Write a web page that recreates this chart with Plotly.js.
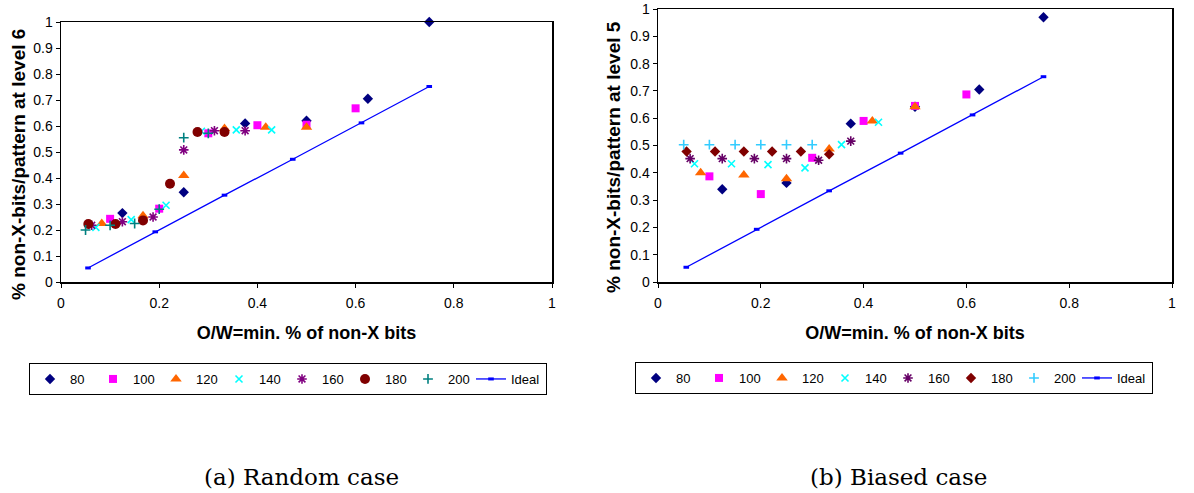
<!DOCTYPE html>
<html>
<head>
<meta charset="utf-8">
<script src="https://cdn.plot.ly/plotly-3.0.1.min.js"></script>
<style>html,body{margin:0;padding:0;background:#fff;}#chart{width:1194px;height:493px;}</style>
</head>
<body>
<div id="chart"></div>
<script>
// ---- data ----
const seriesNames = ["80", "100", "120", "140", "160", "180", "200"];
const idealName = "Ideal";
const xIdeal = [0.055, 0.192, 0.333, 0.472, 0.612, 0.75];
const yIdeal = [0.054, 0.193, 0.334, 0.472, 0.612, 0.752];

const x80  = [0.125, 0.25, 0.375, 0.5, 0.625, 0.75];
const x100 = [0.1, 0.2, 0.3, 0.4, 0.5, 0.6];
const x120 = [0.083, 0.167, 0.25, 0.333, 0.417, 0.5];
const x140 = [0.071, 0.143, 0.214, 0.286, 0.357, 0.429];
const x160 = [0.0625, 0.125, 0.1875, 0.25, 0.3125, 0.375];
const x180 = [0.0556, 0.111, 0.167, 0.222, 0.278, 0.333];
const x200 = [0.05, 0.1, 0.15, 0.2, 0.25, 0.3];

// (a) Random case
const yA80  = [0.265, 0.345, 0.61, 0.62, 0.705, 1.0];
const yA100 = [0.243, 0.282, 0.572, 0.603, 0.605, 0.668];
const yA120 = [0.225, 0.255, 0.41, 0.59, 0.595, 0.595];
const yA140 = [0.21, 0.24, 0.295, 0.58, 0.585, 0.585];
const yA160 = [0.218, 0.232, 0.25, 0.508, 0.582, 0.582];
const yA180 = [0.223, 0.223, 0.237, 0.378, 0.577, 0.577];
const yA200 = [0.2, 0.218, 0.225, 0.28, 0.555, 0.572];

// (b) Biased case
const yB80  = [0.34, 0.363, 0.58, 0.642, 0.705, 0.97];
const yB100 = [0.387, 0.322, 0.455, 0.59, 0.645, 0.687];
const yB120 = [0.4, 0.392, 0.378, 0.487, 0.59, 0.642];
const yB140 = [0.433, 0.433, 0.43, 0.418, 0.503, 0.585];
const yB160 = [0.452, 0.452, 0.452, 0.452, 0.446, 0.516];
const yB180 = [0.478, 0.478, 0.478, 0.478, 0.478, 0.468];
const yB200 = [0.503, 0.503, 0.503, 0.503, 0.503, 0.503];

const xTitle = "O/W=min. % of non-X bits";
const yTitleA = "% non-X-bits/pattern at level 6";
const yTitleB = "% non-X-bits/pattern at level 5";
const captionA = "(a) Random case";
const captionB = "(b) Biased case";

// ---- styles ----
const W = 1194, H = 493;
const xs = [x80, x100, x120, x140, x160, x180, x200];
const ysA = [yA80, yA100, yA120, yA140, yA160, yA180, yA200];
const ysB = [yB80, yB100, yB120, yB140, yB160, yB180, yB200];
const stylesA = [
  {symbol: "diamond", color: "#000080", size: 8},
  {symbol: "square", color: "#FF00FF", size: 8},
  {symbol: "triangle-up", color: "#FF6600", size: 10},
  {symbol: "x-thin-open", color: "#00FFFF", size: 7, open: true},
  {symbol: "asterisk-open", color: "#800080", size: 8, open: true},
  {symbol: "circle", color: "#800000", size: 10},
  {symbol: "cross-thin-open", color: "#008080", size: 7, open: true}
];
const stylesB = [
  {symbol: "diamond", color: "#000080", size: 8},
  {symbol: "square", color: "#FF00FF", size: 8},
  {symbol: "triangle-up", color: "#FF6600", size: 10},
  {symbol: "x-thin-open", color: "#00FFFF", size: 7, open: true},
  {symbol: "asterisk-open", color: "#660066", size: 8, open: true},
  {symbol: "diamond", color: "#800000", size: 8},
  {symbol: "cross-thin-open", color: "#33CCFF", size: 7, open: true}
];

function markerOf(s) {
  return s.open
    ? {symbol: s.symbol, size: s.size, color: s.color, line: {color: s.color, width: 1.6}}
    : {symbol: s.symbol, size: s.size, color: s.color, line: {width: 0}};
}

const traces = [];
function addPanel(ys, styles, xa, ya, legendId) {
  for (let i = 0; i < seriesNames.length; i++) {
    traces.push({
      type: "scatter", mode: "markers", name: seriesNames[i],
      x: xs[i], y: ys[i], xaxis: xa, yaxis: ya, legend: legendId,
      marker: markerOf(styles[i]), cliponaxis: false, hoverinfo: "x+y+name"
    });
  }
  traces.push({
    type: "scatter", mode: "lines+markers", name: idealName,
    x: xIdeal, y: yIdeal, xaxis: xa, yaxis: ya, legend: legendId,
    line: {color: "#0000FF", width: 1.3},
    marker: {symbol: "line-ew-open", size: 4, color: "#0000FF", line: {color: "#0000FF", width: 3}},
    legendwidth: 30, cliponaxis: false
  });
}
addPanel(ysA, stylesA, "x", "y", "legend");
addPanel(ysB, stylesB, "x2", "y2", "legend2");

const fam = "Liberation Sans, Arial, sans-serif";
const tickFont = {family: fam, size: 14, color: "#000"};
const titleFont = {family: fam, size: 18, color: "#000", weight: "bold"};
function axis(domain, dtick, anchor, isX) {
  const a = {
    domain: domain, range: [0, 1], dtick: dtick, tick0: 0, anchor: anchor,
    ticks: "outside", ticklen: 4, tickwidth: 1, tickcolor: "#000",
    showline: true, mirror: true, linecolor: "#000", linewidth: 1.5,
    showgrid: false, zeroline: false, fixedrange: true,
    tickfont: tickFont
  };
  if (isX) {
    a.ticklabelstandoff = 4;
    a.title = {text: xTitle, font: titleFont, standoff: 16};
  }
  return a;
}
const yDomA = [1 - 282 / H, 1 - 22 / H];
const yDomB = [1 - 282 / H, 1 - 9 / H];
const legendBase = {
  orientation: "h", xanchor: "left", yanchor: "top",
  bordercolor: "#000", borderwidth: 1, bgcolor: "#fff",
  font: {family: fam, size: 13, color: "#000"},
  entrywidth: 18, traceorder: "normal", itemclick: false, itemdoubleclick: false
};
const captionFont = {family: "DejaVu Serif, serif", size: 23, color: "#000"};

const layout = {
  width: W, height: H, margin: {l: 0, r: 0, t: 0, b: 0},
  paper_bgcolor: "#fff", plot_bgcolor: "#fff", showlegend: true,
  xaxis: axis([61 / W, 552 / W], 0.2, "y", true),
  yaxis: axis(yDomA, 0.1, "x", false),
  xaxis2: axis([658 / W, 1172 / W], 0.2, "y2", true),
  yaxis2: axis(yDomB, 0.1, "x2", false),
  legend: Object.assign({}, legendBase, {x: 29 / W, y: 1 - 363 / H}),
  legend2: Object.assign({}, legendBase, {x: 635 / W, y: 1 - 362 / H}),
  annotations: [
    {text: yTitleA, xref: "paper", yref: "paper", x: 18 / W, y: 1 - 165 / H, xanchor: "center", yanchor: "middle", textangle: -90, showarrow: false, font: {family: fam, size: 19, color: "#000", weight: "bold"}},
    {text: yTitleB, xref: "paper", yref: "paper", x: 613 / W, y: 1 - 157 / H, xanchor: "center", yanchor: "middle", textangle: -90, showarrow: false, font: {family: fam, size: 19, color: "#000", weight: "bold"}},
    {text: captionA, xref: "paper", yref: "paper", x: 301 / W, y: 1 - 477 / H, xanchor: "center", yanchor: "middle", showarrow: false, font: captionFont},
    {text: captionB, xref: "paper", yref: "paper", x: 898 / W, y: 1 - 477 / H, xanchor: "center", yanchor: "middle", showarrow: false, font: captionFont}
  ]
};

Plotly.newPlot("chart", traces, layout, {staticPlot: true, displayModeBar: false});
</script>
</body>
</html>
